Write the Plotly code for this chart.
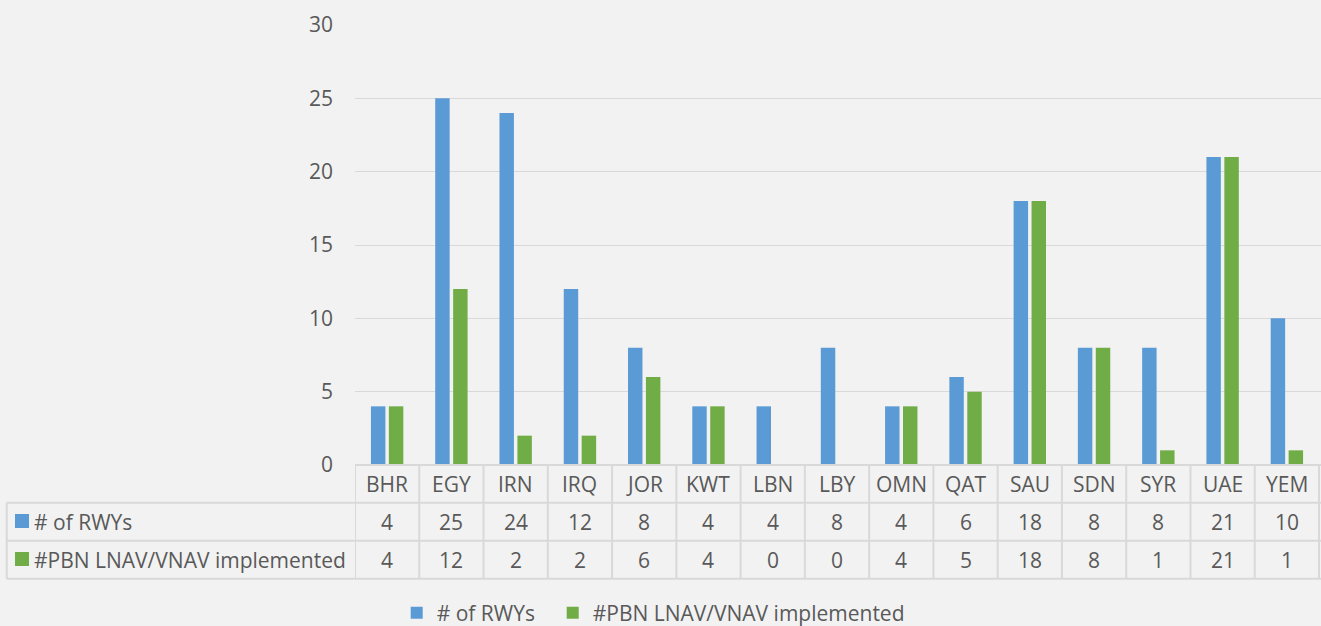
import plotly.graph_objects as go

categories = ["BHR", "EGY", "IRN", "IRQ", "JOR", "KWT", "LBN", "LBY", "OMN", "QAT", "SAU", "SDN", "SYR", "UAE", "YEM"]
rwys = [4, 25, 24, 12, 8, 4, 4, 8, 4, 6, 18, 8, 8, 21, 10]
pbn = [4, 12, 2, 2, 6, 4, 0, 0, 4, 5, 18, 8, 1, 21, 1]
series_names = ["# of RWYs", "#PBN LNAV/VNAV implemented"]
series_colors = ["#5B9BD5", "#70AD47"]
y_ticks = [0, 5, 10, 15, 20, 25, 30]

W, H = 1321, 626
L, R, T, B = 355, 0, 25, 161
plot_w = W - L - R
plot_h = H - T - B
TXT = "#595959"
GRID = "#D9D9D9"
FONT = "Open Sans"
FS = 21

def py(p):  # pixel y -> paper y
    return (H - B - p) / plot_h

def px(p):  # pixel x -> paper x
    return (p - L) / plot_w

fig = go.Figure()
for k, (name, vals, col) in enumerate(zip(series_names, [rwys, pbn], series_colors)):
    fig.add_trace(go.Bar(x=list(range(len(categories))), y=vals, name=name,
                         legend="legend" if k == 0 else "legend2",
                         marker=dict(color=col, line=dict(width=0))))

n = len(categories)
shapes = []
annotations = []
line = dict(color=GRID, width=2)
y_head_top, y_r1, y_r2, y_bot = py(465), py(502.7), py(540.7), py(578.7)
x_left = px(6.7)

# horizontal lines
shapes.append(dict(type="line", xref="x", yref="paper", x0=-0.5, x1=n - 0.5 + 0.05, y0=y_head_top, y1=y_head_top, line=line))
for yy in [y_r1, y_r2, y_bot]:
    shapes.append(dict(type="line", xref="paper", yref="paper", x0=x_left, x1=1.01, y0=yy, y1=yy, line=line))
# vertical lines
for k in range(n + 1):
    shapes.append(dict(type="line", xref="x", yref="paper", x0=k - 0.5, x1=k - 0.5, y0=y_head_top, y1=y_bot, line=line))
shapes.append(dict(type="line", xref="paper", yref="paper", x0=x_left, x1=x_left, y0=y_r1, y1=y_bot, line=line))

row_centers = [py(521.7), py(559.7)]
head_center = py(484)
for i, c in enumerate(categories):
    annotations.append(dict(x=i, y=head_center, xref="x", yref="paper", text=c, showarrow=False,
                            font=dict(family=FONT, size=FS, color=TXT), xanchor="center", yanchor="middle"))
    for r, vals in enumerate([rwys, pbn]):
        annotations.append(dict(x=i, y=row_centers[r], xref="x", yref="paper", text=str(vals[i]), showarrow=False,
                                font=dict(family=FONT, size=FS, color=TXT), xanchor="center", yanchor="middle"))
for r, (name, col) in enumerate(zip(series_names, series_colors)):
    cy = [521, 559][r]
    shapes.append(dict(type="rect", xref="paper", yref="paper", x0=px(15), x1=px(29), y0=py(cy - 7), y1=py(cy + 7),
                       fillcolor=col, line=dict(width=0)))
    annotations.append(dict(x=px(32), y=row_centers[r], xref="paper", yref="paper", text=name, showarrow=False,
                            font=dict(family=FONT, size=FS, color=TXT), xanchor="left", yanchor="middle"))

leg_common = dict(orientation="h", xref="container", yref="container", xanchor="left",
                  y=(H - 613) / H, yanchor="middle", font=dict(family=FONT, size=FS, color=TXT),
                  bgcolor="rgba(0,0,0,0)", itemclick=False, borderwidth=0)

fig.update_layout(
    width=W, height=H, autosize=False,
    margin=dict(l=L, r=R, t=T, b=B, pad=0),
    paper_bgcolor="#F2F2F2", plot_bgcolor="#F2F2F2",
    barmode="group", bargap=0.442, bargroupgap=0.194,
    font=dict(family=FONT, size=FS, color=TXT),
    shapes=shapes, annotations=annotations,
    showlegend=True,
    legend=dict(x=(436.7 - 40) / W, **leg_common),
    legend2=dict(x=(592.7 - 40) / W, **leg_common),
    xaxis=dict(range=[-0.5, n - 0.5 + 2 / 64.55], showticklabels=False, showgrid=False, zeroline=False,
               showline=False, ticks="", fixedrange=True),
    yaxis=dict(range=[0, 30], tickvals=y_ticks, showgrid=True, gridcolor=GRID, gridwidth=1.3,
               zeroline=False, showline=False, ticks="", ticklabelstandoff=21,
               tickfont=dict(family=FONT, size=FS, color=TXT), fixedrange=True),
)
fig.write_html("out.html", config={"displayModeBar": False},
               post_script="document.body.style.margin='0';document.body.style.background='#F2F2F2';")
